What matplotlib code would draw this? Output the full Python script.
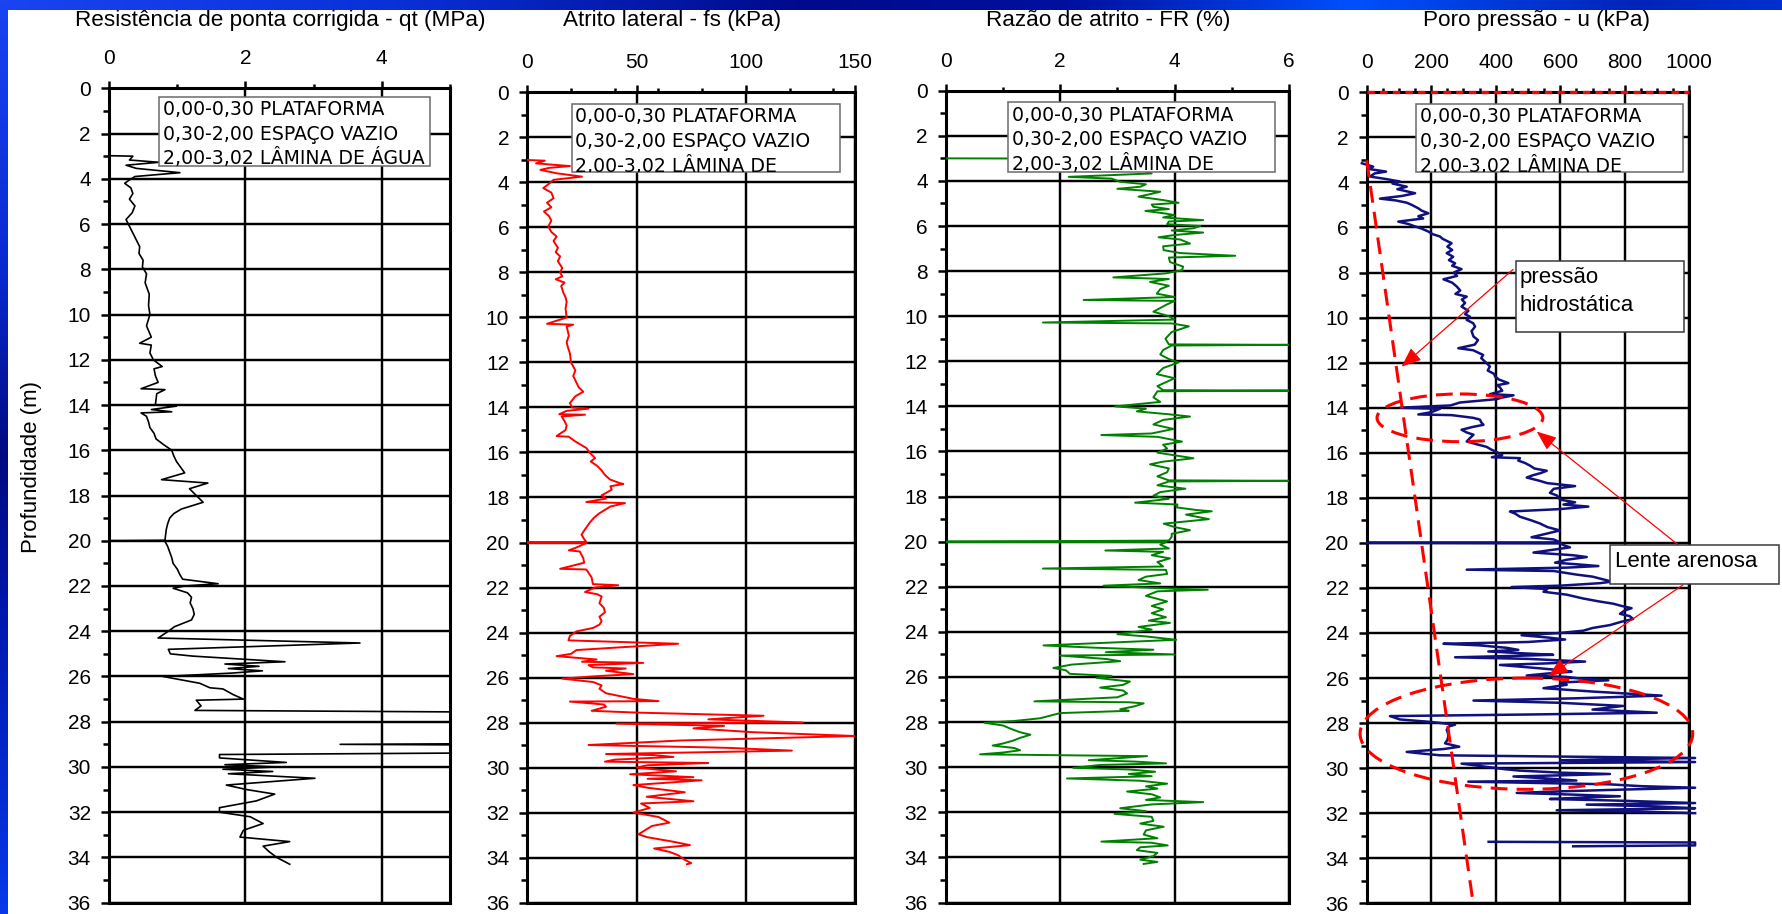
import numpy as np
import matplotlib
matplotlib.use("Agg")
import matplotlib.pyplot as plt
from matplotlib.ticker import MultipleLocator
from matplotlib.patches import Rectangle, Ellipse
from matplotlib.transforms import Bbox, TransformedBbox
from matplotlib.colors import LinearSegmentedColormap

nan = np.nan

# ---------------- data ----------------
titles = ["Resistência de ponta corrigida - qt (MPa)", "Atrito lateral - fs (kPa)",
          "Razão de atrito - FR (%)", "Poro pressão - u (kPa)"]
ylabel = "Profundidade (m)"
layer_lines = ["0,00-0,30 PLATAFORMA", "0,30-2,00 ESPAÇO VAZIO", "2,00-3,02 LÂMINA DE ÁGUA"]

qt_depth = [2.98, 3.0, 3.17, 3.27, 3.4, 3.54, 3.73, 3.9, 4.05, 4.2, 4.4, 4.65, 4.9, 5.2, 5.5, 5.8, 6.1, 6.4, 6.7,
            7.0, 7.3, 7.6, 7.9, 8.2, 8.6, 9.1, 9.6, 10.0, 10.5, 11.0, 11.27, 11.35, 11.7, 12.0, 12.3, 12.4, 12.7,
            13.0, 13.28, 13.32, 13.5, 14.0, 14.05, 14.2, 14.3, 14.35, 14.5, 14.75, 15.0, 15.25, 15.5, 15.75, 16.0,
            16.25, 16.5, 16.75, 17.0, 17.3, 17.45, 17.7, 18.0, 18.3, 18.6, 18.8, 19.0, 19.25, 19.5, 19.75, 19.98,
            20.0, 20.02, 20.25, 20.5, 20.75, 21.0, 21.25, 21.5, 21.7, 21.9, 22.0, 22.1, 22.3, 22.5, 22.75, 23.0,
            23.25, 23.5, 23.8, 24.0, 24.3, 24.52, 24.8, 25.0, 25.1, 25.35, 25.45, 25.55, 25.65, 25.75, 25.85,
            26.0, 26.3, 26.5, 26.55, 26.8, 27.0, 27.05, 27.3, 27.5, 27.6, 28.95, 29.0, 29.05, 29.35, 29.45,
            29.6, 29.8, 29.9, 30.0, 30.1, 30.2, 30.3, 30.5, 30.8, 31.0, 31.2, 31.5, 31.8, 32.0, 32.2, 32.5,
            32.8, 33.1, 33.3, 33.5, 33.75, 34.0, 34.3]
qt_val = [0.0, 0.35, 0.30, 0.73, 0.25, 0.40, 1.04, 0.38, 0.30, 0.23, 0.32, 0.35, 0.30, 0.38, 0.34, 0.25, 0.30, 0.35,
          0.40, 0.45, 0.44, 0.50, 0.49, 0.55, 0.53, 0.59, 0.58, 0.60, 0.55, 0.62, 0.45, 0.62, 0.60, 0.65, 0.78,
          0.66, 0.68, 0.72, 0.47, 0.82, 0.70, 0.68, 0.99, 0.62, 0.92, 0.47, 0.55, 0.58, 0.60, 0.66, 0.69, 0.80,
          0.92, 0.95, 0.99, 1.05, 1.11, 0.77, 1.45, 1.18, 1.28, 1.38, 1.06, 0.95, 0.89, 0.86, 0.84, 0.83, 0.82,
          0.0, 0.82, 0.86, 0.89, 0.92, 0.94, 1.00, 1.04, 1.08, 1.60, 1.11, 0.94, 1.15, 1.21, 1.19, 1.23, 1.25,
          1.21, 0.96, 0.87, 0.72, 3.68, 0.87, 0.90, 1.23, 2.58, 1.70, 2.20, 1.75, 2.25, 1.80, 0.79, 1.33, 1.48,
          1.67, 1.82, 1.97, 1.28, 1.35, 1.26, 7.0, 7.0, 3.39, 7.0, 7.0, 1.62, 1.62, 2.60, 1.70, 2.45, 1.67,
          2.40, 1.75, 3.02, 1.72, 2.02, 2.43, 2.16, 1.62, 1.62, 2.07, 2.26, 1.97, 1.92, 2.65, 2.26, 2.35,
          2.46, 2.65]

fs_depth = [3.0, 3.03, 3.15, 3.27, 3.35, 3.44, 3.59, 3.74, 3.88, 4.05, 4.25, 4.45, 4.7, 4.9, 5.1, 5.29, 5.5, 5.7,
            5.95, 6.2, 6.4, 6.6, 6.9, 7.1, 7.28, 7.5, 7.8, 8.0, 8.17, 8.3, 8.45, 8.6, 8.9, 9.1, 9.3, 9.6, 10.0,
            10.28, 10.32, 10.4, 10.8, 11.1, 11.3, 11.6, 12.0, 12.35, 12.6, 12.9, 13.1, 13.3, 13.5, 13.8, 14.0,
            14.05, 14.15, 14.3, 14.32, 14.4, 14.6, 14.8, 15.0, 15.27, 15.3, 15.5, 15.8, 16.0, 16.25, 16.4, 16.6,
            16.8, 17.0, 17.2, 17.35, 17.4, 17.5, 17.65, 17.8, 17.9, 18.05, 18.2, 18.25, 18.4, 18.7, 18.9, 19.1,
            19.4, 19.65, 19.85, 19.98, 20.0, 20.02, 20.2, 20.35, 20.4, 20.7, 20.9, 21.17, 21.2, 21.55, 21.85,
            21.9, 22.0, 22.2, 22.3, 22.4, 22.7, 22.9, 23.1, 23.3, 23.5, 23.65, 23.8, 23.95, 24.15, 24.35, 24.5,
            24.78, 24.95, 25.05, 25.2, 25.3, 25.35, 25.45, 25.55, 25.6, 25.7, 25.85, 25.95, 26.05, 26.2, 26.35,
            26.5, 26.7, 26.95, 27.05, 27.07, 27.2, 27.3, 27.48, 27.56, 27.7, 27.86, 28.0, 28.05, 28.15, 28.26,
            28.43, 28.6, 28.8, 29.0, 29.1, 29.13, 29.25, 29.4, 29.45, 29.53, 29.65, 29.74, 29.8, 29.9, 30.0,
            30.1, 30.17, 30.3, 30.43, 30.5, 30.57, 30.78, 30.9, 31.1, 31.3, 31.5, 31.6, 31.8, 32.0, 32.2, 32.45,
            32.6, 32.97, 33.1, 33.3, 33.45, 33.6, 33.75, 33.9, 34.1, 34.25, 34.3]
fs_val = [0, 8, 4, 19.5, 10, 6, 13.4, 25, 12, 10, 7.3, 11, 12, 9, 11, 7.6, 10, 11, 9.6, 11, 13.4, 12, 14, 13, 15,
          14, 16, 15, 16, 13, 17, 15.5, 16.5, 17.5, 18, 17.5, 18, 9, 21, 18, 19, 18, 18.5, 19.5, 20, 22, 21, 22.5,
          23.5, 25.6, 22, 19.5, 20.5, 28, 18, 14.6, 26.4, 15.7, 17, 18, 17.5, 13.4, 19, 21.8, 27, 28.5, 31, 29, 32,
          34, 35.5, 37.8, 42, 43.9, 38, 38.6, 36, 34, 36, 27, 44.7, 38, 33, 30.5, 28.7, 26.5, 24.8, 26, 27, 0, 27,
          23, 19, 24, 25.6, 26, 15, 27, 29.4, 30, 41.6, 31, 26.4, 32, 34, 33, 35, 35.5, 33, 34, 33, 30, 22.5,
          19.5, 18.8, 69, 22.5, 20, 13.4, 31.7, 25, 53, 28, 30, 45, 36, 48.5, 30, 16, 30, 34, 33, 36, 48.5, 60,
          19.5, 35, 36, 29.4, 50, 108, 82.8, 126, 40.8, 90, 76, 103, 150, 70, 28, 80, 92.7, 121, 36, 58, 66.8, 40,
          35.5, 82.8, 55, 50, 60, 68, 47, 76, 55, 79.7, 48.5, 55, 72, 54.6, 76, 52, 56, 48.5, 60, 65, 57, 50.8,
          55, 66.8, 74.4, 58, 65, 69, 72, 75, 73]

fr_depth = [3.0, 3.02, 3.3, 3.67, 3.82, 3.9, 4.04, 4.15, 4.26, 4.35, 4.48, 4.6, 4.7, 4.85, 4.97, 5.05, 5.15, 5.25,
            5.33, 5.45, 5.52, 5.62, 5.74, 5.8, 5.92, 6.0, 6.1, 6.2, 6.29, 6.4, 6.5, 6.6, 6.78, 6.9, 7.07, 7.2, 7.32,
            7.4, 7.6, 7.8, 7.96, 8.1, 8.28, 8.35, 8.48, 8.65, 8.8, 9.0, 9.15, 9.28, 9.32, 9.5, 9.8, 10.0, 10.15,
            10.28, 10.32, 10.45, 10.7, 11.0, 11.25, 11.27, 11.3, 11.5, 11.7, 11.9, 12.05, 12.3, 12.57, 12.75,
            12.9, 13.1, 13.28, 13.3, 13.33, 13.6, 13.8, 14.0, 14.1, 14.22, 14.35, 14.45, 14.6, 14.8, 15.0, 15.2,
            15.27, 15.35, 15.56, 15.7, 15.87, 16.05, 16.3, 16.45, 16.57, 16.75, 16.92, 17.1, 17.28, 17.3, 17.33,
            17.5, 17.65, 17.8, 17.96, 18.1, 18.27, 18.35, 18.48, 18.6, 18.65, 18.8, 19.0, 19.1, 19.2, 19.35,
            19.49, 19.65, 19.78, 19.95, 20.0, 20.02, 20.13, 20.3, 20.39, 20.45, 20.6, 20.74, 20.9, 21.1, 21.19,
            21.25, 21.43, 21.55, 21.7, 21.85, 21.95, 22.05, 22.13, 22.2, 22.4, 22.65, 22.85, 23.0, 23.17, 23.35,
            23.5, 23.6, 23.78, 23.9, 24.1, 24.2, 24.35, 24.45, 24.6, 24.7, 24.79, 24.9, 25.0, 25.05, 25.2, 25.3,
            25.45, 25.6, 25.7, 25.86, 25.95, 26.04, 26.2, 26.35, 26.47, 26.6, 26.73, 26.9, 27.08, 27.12, 27.17,
            27.3, 27.43, 27.5, 27.6, 27.83, 27.95, 28.03, 28.15, 28.3, 28.45, 28.56, 28.7, 28.82, 28.95, 29.04,
            29.15, 29.25, 29.35, 29.43, 29.51, 29.6, 29.69, 29.75, 29.83, 29.9, 30.03, 30.1, 30.2, 30.3, 30.4,
            30.5, 30.6, 30.73, 30.85, 30.95, 31.08, 31.2, 31.34, 31.45, 31.55, 31.65, 31.82, 31.95, 32.07, 32.2,
            32.38, 32.5, 32.64, 32.8, 32.99, 33.15, 33.3, 33.35, 33.47, 33.55, 33.68, 33.8, 33.94, 34.1, 34.2,
            34.29]
fr_val = [0.0, 3.5, 3.2, 3.6, 2.15, 2.9, 3.05, 3.5, 3.4, 3.0, 3.75, 3.55, 3.37, 3.8, 4.07, 3.6, 3.63, 3.9, 3.49,
          3.85, 4.0, 3.8, 4.5, 3.9, 3.87, 4.45, 4.33, 3.95, 4.5, 4.0, 3.72, 4.1, 4.27, 3.8, 3.81, 4.1, 5.06, 3.9,
          3.92, 4.15, 4.13, 3.85, 2.93, 3.9, 3.57, 3.9, 3.75, 3.69, 4.0, 2.41, 4.0, 3.85, 3.63, 3.9, 4.0, 1.7,
          3.95, 4.25, 3.95, 3.84, 3.9, 6.0, 3.95, 3.8, 3.75, 3.9, 4.07, 3.8, 3.69, 4.0, 3.87, 3.7, 3.8, 6.0, 3.7,
          3.63, 3.75, 2.96, 3.5, 3.34, 3.9, 4.27, 3.8, 3.63, 3.98, 3.6, 2.72, 3.7, 4.13, 3.8, 3.87, 3.7, 4.33,
          3.8, 3.57, 3.9, 3.87, 3.7, 3.9, 6.0, 3.9, 3.7, 4.19, 3.75, 3.63, 3.9, 3.31, 4.05, 4.04, 4.4, 4.65, 4.2,
          4.6, 4.2, 3.81, 4.0, 4.27, 3.95, 3.95, 3.9, 0.0, 3.85, 3.75, 3.9, 2.79, 3.8, 3.6, 3.92, 3.7, 3.8, 1.7,
          3.85, 3.87, 3.5, 3.37, 3.75, 2.76, 3.6, 4.58, 3.7, 3.5, 3.87, 3.6, 3.8, 3.6, 3.85, 3.55, 3.92, 3.37,
          3.6, 3.0, 3.5, 4.03, 3.1, 1.71, 2.6, 3.63, 2.8, 4.0, 2.0, 2.8, 3.05, 2.2, 1.88, 2.1, 2.17, 2.9, 2.64,
          3.22, 3.1, 2.7, 3.1, 3.17, 3.0, 1.55, 3.2, 3.46, 3.3, 3.05, 3.2, 2.0, 1.65, 1.2, 0.68, 1.0, 1.14, 1.3,
          1.48, 1.3, 1.18, 1.0, 0.82, 1.2, 1.3, 1.0, 0.6, 3.52, 3.0, 2.5, 3.3, 3.85, 2.7, 2.23, 3.2, 3.66, 3.2,
          3.6, 2.12, 3.4, 3.87, 3.5, 3.7, 3.17, 3.6, 3.75, 3.5, 4.5, 3.6, 3.05, 3.5, 2.95, 3.6, 3.63, 3.4, 3.81,
          3.5, 3.46, 3.7, 2.72, 3.6, 3.88, 3.4, 3.34, 3.7, 3.63, 3.4, 3.7, 3.46]

u_depth = [3.15, 3.3, 3.4, 3.52, 3.6, 3.74, 3.85, 3.96, 4.05, 4.19, 4.3, 4.48, 4.6, 4.72, 4.8, 4.9, 5.0, 5.15, 5.25,
           5.37, 5.5, 5.6, 5.74, 5.85, 5.93, 6.05, 6.18, 6.3, 6.4, 6.5, 6.7, 6.85, 7.0, 7.14, 7.3, 7.45, 7.59,
           7.7, 7.85, 8.0, 8.15, 8.3, 8.45, 8.62, 8.8, 8.95, 9.07, 9.2, 9.35, 9.51, 9.7, 9.85, 9.96, 10.1, 10.25,
           10.4, 10.6, 10.84, 11.0, 11.2, 11.36, 11.45, 11.66, 11.8, 12.0, 12.17, 12.35, 12.5, 12.62, 12.75,
           12.91, 13.0, 13.1, 13.25, 13.4, 13.45, 13.55, 13.62, 13.77, 13.9, 14.0, 14.05, 14.2, 14.3, 14.33,
           14.45, 14.53, 14.65, 14.76, 14.85, 14.98, 15.1, 15.2, 15.35, 15.5, 15.62, 15.74, 15.85, 15.97, 16.1,
           16.2, 16.24, 16.35, 16.45, 16.57, 16.7, 16.8, 16.9, 17.0, 17.1, 17.25, 17.35, 17.48, 17.6, 17.78,
           17.9, 18.08, 18.2, 18.3, 18.39, 18.5, 18.61, 18.7, 18.84, 19.0, 19.14, 19.3, 19.45, 19.55, 19.75,
           19.85, 19.98, 20.0, 20.02, 20.1, 20.2, 20.3, 20.43, 20.55, 20.63, 20.75, 20.88, 20.95, 21.03, 21.1,
           21.19, 21.25, 21.41, 21.5, 21.64, 21.72, 21.79, 21.9, 21.96, 22.05, 22.17, 22.3, 22.47, 22.6, 22.7,
           22.8, 22.9, 23.0, 23.15, 23.25, 23.38, 23.5, 23.65, 23.78, 23.9, 24.0, 24.1, 24.2, 24.29, 24.4,
           24.48, 24.55, 24.66, 24.75, 24.82, 24.9, 24.97, 25.02, 25.08, 25.15, 25.27, 25.35, 25.42, 25.5,
           25.57, 25.65, 25.72, 25.8, 25.89, 25.95, 26.02, 26.1, 26.2, 26.3, 26.45, 26.6, 26.78, 26.9, 27.0,
           27.1, 27.24, 27.4, 27.54, 27.62, 27.69, 27.78, 27.84, 27.95, 28.07, 28.15, 28.3, 28.45, 28.6, 28.75,
           28.9, 29.05, 29.15, 29.28, 29.35, 29.43, 29.55, 29.65, 29.73, 29.8, 29.96, 30.05, 30.11, 30.2, 30.26,
           30.32, 30.37, 30.45, 30.55, 30.6, 30.72, 30.8, 30.87, 30.95, 31.03, 31.1, 31.18, 31.25, 31.32, 31.37,
           31.45, 31.55, 31.62, 31.7, 31.78, 31.87, 31.93, 32.0, nan, 33.27, 33.3, 33.43, 33.47]
u_val = [-15, 20, 5, 60, 25, 10, 60, 103, 80, 124, 95, 150, 110, 41, 90, 124, 140, 160, 170, 191, 160, 175, 98,
         130, 145, 170, 191, 205, 227, 235, 263, 250, 265, 248, 268, 255, 274, 265, 294, 270, 280, 238, 265, 279,
         290, 275, 310, 295, 305, 294, 315, 305, 320, 310, 330, 336, 325, 331, 345, 335, 284, 330, 361, 355, 370,
         382, 375, 395, 398, 410, 439, 405, 413, 420, 382, 455, 420, 403, 289, 260, 103, 227, 200, 160, 263, 330,
         351, 355, 362, 330, 294, 310, 331, 320, 310, 340, 372, 385, 403, 420, 388, 475, 470, 490, 506, 520, 558,
         540, 515, 496, 537, 560, 646, 580, 568, 590, 599, 646, 610, 687, 600, 444, 460, 475, 510, 537, 560, 599,
         570, 511, 580, 600, 0, 600, 610, 630, 580, 517, 640, 682, 620, 584, 650, 718, 620, 310, 580, 651, 700,
         739, 760, 723, 600, 449, 560, 548, 620, 671, 720, 764, 790, 821, 800, 785, 815, 826, 790, 754, 700, 671,
         600, 480, 560, 615, 500, 238, 350, 434, 470, 377, 480, 578, 450, 274, 500, 677, 560, 413, 480, 537, 600,
         635, 560, 496, 620, 660, 749, 600, 620, 548, 700, 914, 650, 331, 600, 795, 700, 899, 500, 72, 90, 103,
         200, 274, 255, 248, 252, 253, 250, 243, 287, 240, 124, 170, 227, 1018, 600, 1018, 294, 382, 430, 475,
         600, 754, 600, 455, 550, 650, 315, 754, 850, 1018, 800, 600, 465, 650, 785, 650, 568, 800, 1018, 682,
         900, 1018, 589, 850, 1018, nan, 378, 1018, 1018, 640]

hyd_depth = [3.02, 36.0]
hyd_u = [0, 330]
top_depth = [0, 0]
top_u = [0, 1000]

# ---------------- figure ----------------
W, H = 1783, 914
fig = plt.figure(figsize=(W / 100, H / 100), dpi=100, facecolor="white")
plt.rcParams["font.family"] = ["Liberation Sans", "DejaVu Sans"]


def fx(x):
    return x / W


def fy(y):
    return 1 - y / H


# slide background strips
bg = fig.add_axes([0, 0, 1, 1], zorder=-10)
bg.set_xlim(0, W)
bg.set_ylim(H, 0)
bg.axis("off")
top_cmap = LinearSegmentedColormap.from_list(
    "top", [(0, "#1a44f2"), (0.22, "#0a30d8"), (0.45, "#000a8c"), (0.6, "#0010a0"),
            (0.76, "#0050ff"), (0.92, "#0024b8"), (1, "#0030d0")])
left_cmap = LinearSegmentedColormap.from_list(
    "left", [(0, "#1a44f2"), (0.3, "#0a28d0"), (0.5, "#000a80"), (0.68, "#0018b0"), (1, "#0838e8")])
bg.imshow(np.linspace(0, 1, 512)[None, :], cmap=top_cmap, extent=(0, W, 10, 0), aspect="auto")
bg.imshow(np.linspace(0, 1, 512)[:, None], cmap=left_cmap, extent=(0, 8, H, 0), aspect="auto")

panels = [
    dict(l=109, r=450, t=88.3, b=902.7, xmax=5, maj=2, mino=1, title_x=280, data=(qt_val, qt_depth),
         color="black", lw=1.2, box=(159, 97, 430, 166), tx=163, bl=(115, 140, 164)),
    dict(l=527.3, r=855.3, t=92.5, b=902.5, xmax=150, maj=50, mino=20, title_x=672, data=(fs_val, fs_depth),
         color="#ff0000", lw=1.4, box=(571.7, 104, 840, 171.7), tx=575.5, bl=(122.5, 146.7, 172)),
    dict(l=945.7, r=1289, t=90.7, b=902.5, xmax=6, maj=2, mino=1, title_x=1108, data=(fr_val, fr_depth),
         color="#008000", lw=1.4, box=(1007.7, 102.3, 1275.3, 171.7), tx=1012, bl=(120.7, 145, 170.5)),
    dict(l=1366.7, r=1689.3, t=92.3, b=903.3, xmax=1000, maj=200, mino=50, title_x=1537, data=(u_val, u_depth),
         color="#10107e", lw=1.8, box=(1415.7, 104, 1683.3, 171.7), tx=1420, bl=(122.5, 146.7, 172)),
]

axes = []
for i, p in enumerate(panels):
    ax = fig.add_axes([fx(p["l"]), fy(p["b"]), fx(p["r"]) - fx(p["l"]), (p["b"] - p["t"]) / H])
    ax.set_xlim(0, p["xmax"])
    ax.set_ylim(36, 0)
    ax.xaxis.set_major_locator(MultipleLocator(p["maj"]))
    ax.xaxis.set_minor_locator(MultipleLocator(p["mino"]))
    ax.yaxis.set_major_locator(MultipleLocator(2))
    ax.yaxis.set_minor_locator(MultipleLocator(1))
    ax.xaxis.tick_top()
    ax.tick_params(axis="x", which="major", direction="out", length=5, width=1.8, labelsize=15, pad=9.5,
                   top=True, bottom=False, labeltop=True, labelbottom=False)
    ax.tick_params(axis="x", which="minor", direction="out", length=3, width=1.8, top=True, bottom=False)
    ax.tick_params(axis="y", which="major", direction="out", length=5.5, width=1.8, labelsize=15, pad=7.5,
                   left=True, right=False)
    ax.tick_params(axis="y", which="minor", direction="out", length=4, width=1.8, left=True, right=False)
    ax.set_axisbelow(True)
    ax.grid(True, which="major", color="black", lw=1.75)
    for s in ax.spines.values():
        s.set_linewidth(2.2)
    vals, deps = p["data"]
    ax.plot(vals, deps, color=p["color"], lw=p["lw"], zorder=3, clip_on=(i != 3))
    fig.text(fx(p["title_x"]), fy(26), titles[i], ha="center", va="baseline", fontsize=16.2)
    axes.append(ax)

    # layer description box
    x0, y0, x1, y1 = p["box"]
    rect = Rectangle((fx(x0), fy(y1)), fx(x1) - fx(x0), (y1 - y0) / H, transform=fig.transFigure,
                     facecolor="white", edgecolor="#6a6a6a", lw=1.1, zorder=5)
    fig.add_artist(rect)
    clip = TransformedBbox(Bbox.from_extents(fx(x0), fy(y1), fx(x1), fy(y0)), fig.transFigure)
    for j, (s, yb) in enumerate(zip(layer_lines, p["bl"])):
        if i > 0 and j == 2:
            s = "2,00-3,02 LÂMINA DE"
        t = fig.text(fx(p["tx"]), fy(yb), s, ha="left", va="baseline", fontsize=13.6,
                     family="DejaVu Sans", zorder=6)
        t.set_clip_box(clip)
        t.set_clip_on(True)

fig.text(fx(32), fy(467), ylabel, rotation=90, ha="center", va="center", fontsize=16)

# ---------------- annotations on pore pressure panel ----------------
ax4 = axes[3]
ax4.plot(hyd_u, hyd_depth, color="#ff0000", lw=2.2, dashes=(5.5, 3), zorder=4, clip_on=False)
ax4.plot(top_u, top_depth, color="#ff0000", lw=2.4, dashes=(2.2, 1.6), zorder=4, clip_on=False)
for (cx, cy, w, h) in [(289, 14.45, 514, 2.12), (495, 28.47, 1031, 4.94)]:
    ax4.add_patch(Ellipse((cx, cy), w, h, fill=False, edgecolor="#ff0000", lw=2.2,
                          linestyle=(0, (5.5, 3)), zorder=4, clip_on=False))

arrow_kw = dict(arrowstyle="-|>,head_length=0.55,head_width=0.22", color="#ff0000", lw=0.9,
                mutation_scale=22, shrinkA=0, shrinkB=0)
ax4.annotate("", xy=(108, 12.18), xytext=(454, 7.86), arrowprops=arrow_kw, annotation_clip=False)
ax4.annotate("", xy=(527, 15.06), xytext=(969, 20.13), arrowprops=arrow_kw, annotation_clip=False)
ax4.annotate("", xy=(563, 25.92), xytext=(980, 21.87), arrowprops=arrow_kw, annotation_clip=False)

for (x0, y0, x1, y1) in [(1515.7, 261, 1684.3, 332.3), (1610, 545, 1779, 583.5)]:
    fig.add_artist(Rectangle((fx(x0), fy(y1)), fx(x1) - fx(x0), (y1 - y0) / H, transform=fig.transFigure,
                             facecolor="white", edgecolor="#3a3a3a", lw=1.1, zorder=5))
fig.text(fx(1520), fy(282.5), "pressão", ha="left", va="baseline", fontsize=16, zorder=6)
fig.text(fx(1520), fy(311), "hidrostática", ha="left", va="baseline", fontsize=16, zorder=6)
fig.text(fx(1615), fy(567), "Lente arenosa", ha="left", va="baseline", fontsize=16, zorder=6)

fig.savefig("out.png", dpi=100, facecolor="white")
